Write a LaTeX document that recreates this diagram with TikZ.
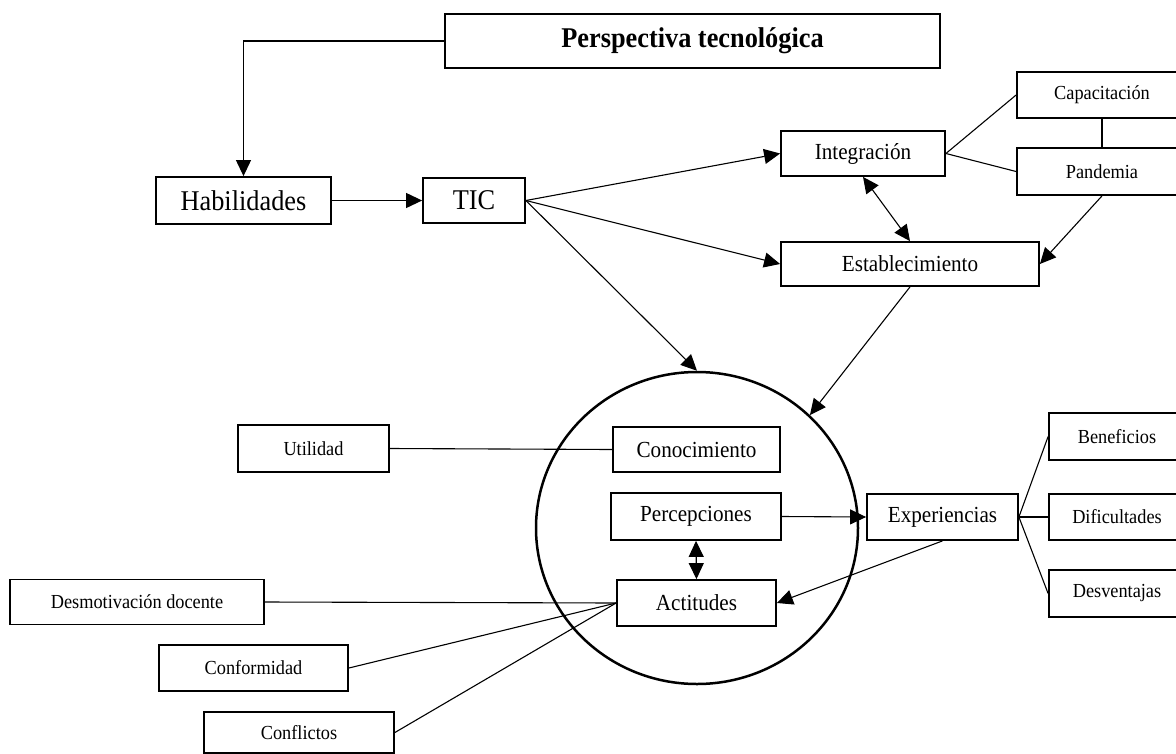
\documentclass[tikz,border=0pt]{standalone}
\usepackage{fontspec}
\setmainfont[FakeStretch=0.92]{Liberation Serif}
\usetikzlibrary{arrows.meta,shapes.geometric}

\begin{document}
\begin{tikzpicture}[x=1pt,y=-1pt,
  box/.style={draw,line width=1.8pt,rectangle,inner sep=0pt,anchor=center},
  small/.style={font=\fontsize{19.9}{22}\selectfont},
  medium/.style={font=\fontsize{23}{26}\selectfont},
  large/.style={font=\fontsize{28.6}{32}\selectfont},
  link/.style={line width=1.1pt},
  tip/.tip={Triangle[length=16pt,width=15pt]},
  arr/.style={link,-tip},
  biarr/.style={link,tip-tip}]
\clip (0,0) rectangle (1176,753);

% central ring grouping the attitude components
\node[draw,ellipse,line width=2.5pt,minimum width=322pt,minimum height=312pt,inner sep=0pt] (circ) at (697,528) {};

% top part
\node[box,minimum width=495pt,minimum height=54pt,font=\fontsize{28.6}{32}\selectfont\bfseries] (persp) at (692.5,41) {Perspectiva tecnológica};
\node[box,large,minimum width=175pt,minimum height=47pt] (hab) at (243.5,200.5) {Habilidades};
\node[box,large,minimum width=102pt,minimum height=45pt] (tic) at (474,200.5) {TIC};
\node[box,medium,minimum width=164pt,minimum height=45pt] (integ) at (863,153.5) {Integración};
\node[box,medium,minimum width=258pt,minimum height=44pt] (estab) at (910,264) {Establecimiento};
\node[box,small,minimum width=170pt,minimum height=46pt] (capac) at (1102,95) {Capacitación};
\node[box,small,minimum width=170pt,minimum height=47pt] (pand) at (1102,171.5) {Pandemia};

% inside the ring
\node[box,medium,minimum width=167pt,minimum height=45pt] (conoc) at (696.5,449.5) {Conocimiento};
\node[box,medium,minimum width=170pt,minimum height=47pt] (percep) at (696,516.5) {Percepciones};
\node[box,medium,minimum width=159pt,minimum height=46pt] (actit) at (696.5,603) {Actitudes};

% right side
\node[box,medium,minimum width=151pt,minimum height=46pt] (exper) at (942.5,517) {Experiencias};
\node[box,small,minimum width=136pt,minimum height=47pt] (benef) at (1117,436.5) {Beneficios};
\node[box,small,minimum width=136pt,minimum height=46pt] (dific) at (1117,517) {Dificultades};
\node[box,small,minimum width=136pt,minimum height=47pt] (desv) at (1117,593.5) {Desventajas};

% left side
\node[box,small,minimum width=151pt,minimum height=47pt] (util) at (313.5,448.5) {Utilidad};
\node[box,small,minimum width=254pt,minimum height=45pt] (desmot) at (137,602) {Desmotivación docente};
\node[box,small,minimum width=189pt,minimum height=46pt] (conform) at (253.5,668) {Conformidad};
\node[box,small,minimum width=190pt,minimum height=41pt] (confl) at (299,732.5) {Conflictos};

% connectors
\draw[arr] (persp.west) -| (hab.north);
\draw[arr] (hab.east) -- (tic.west);
\draw[arr] (tic.east) -- (integ.west);
\draw[arr] (tic.east) -- (estab.west);
\draw[arr] (tic.east) -- (circ.north);
\draw[biarr] (integ.south) -- (estab.north);
\draw[link] (integ.east) -- (capac.west);
\draw[link] (integ.east) -- (pand.west);
\draw[link] (capac.south) -- (pand.north);
\draw[arr] (pand.south) -- (estab.east);
\draw[arr] (estab.south) -- (circ.45);

\draw[link] (util.east) -- (conoc.west);
\draw[arr] (percep.east) -- (exper.west);
\draw[biarr] (percep.south) -- (actit.north);
\draw[arr] (exper.south) -- (actit.east);
\draw[link] (exper.east) -- (benef.west);
\draw[link] (exper.east) -- (dific.west);
\draw[link] (exper.east) -- (desv.west);

\draw[link] (desmot.east) -- (actit.west);
\draw[link] (conform.east) -- (actit.west);
\draw[link] (confl.east) -- (actit.west);
\end{tikzpicture}
\end{document}
